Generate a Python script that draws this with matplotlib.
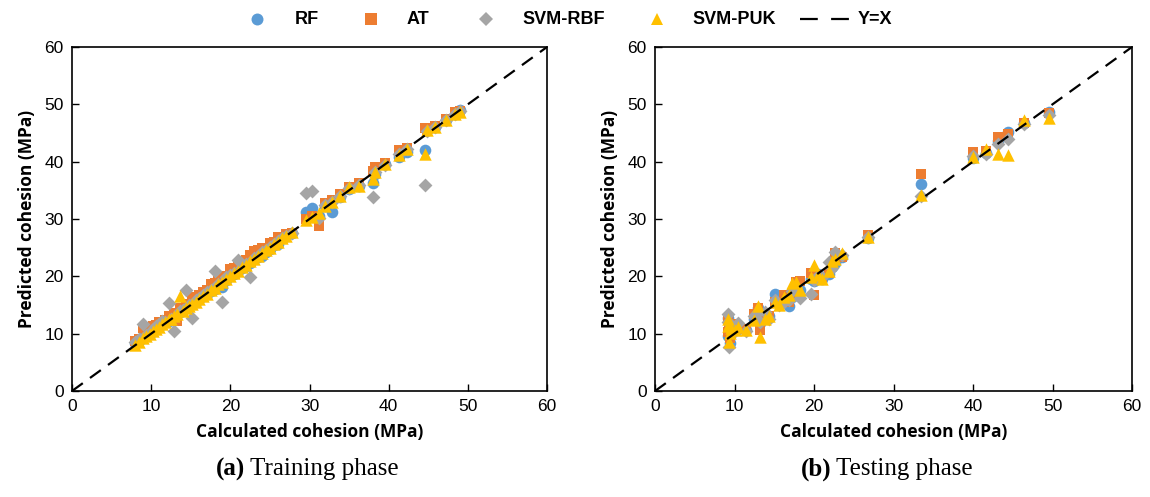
import matplotlib
matplotlib.use("Agg")
import matplotlib.pyplot as plt
from matplotlib.lines import Line2D

# ---------------- data ----------------
train_calc = [8.0, 8.5, 9.0, 9.4, 9.8, 10.2, 10.6, 11.0, 11.4, 11.8, 12.2, 12.5, 12.9, 13.3, 13.6,
              14.0, 14.4, 14.8, 15.2, 15.6, 16.0, 16.5, 17.0, 17.5, 18.0, 18.5, 19.0, 19.5, 20.0,
              20.5, 21.0, 21.5, 22.0, 22.5, 23.0, 23.5, 24.0, 24.5, 25.0, 25.5, 26.0, 26.5, 27.0,
              27.8, 29.5, 30.3, 31.2, 32.0, 32.8, 33.8, 35.0, 36.3, 38.0, 38.3, 39.5, 41.3, 42.3,
              44.6, 44.8, 45.9, 47.2, 48.4, 49.0]
train_rf = [8.4, 8.8, 9.4, 9.8, 10.0, 10.6, 10.8, 11.2, 11.6, 12.0, 12.2, 12.8, 13.0, 13.4, 13.8,
            14.2, 14.4, 14.8, 15.4, 15.6, 16.0, 16.6, 17.0, 17.4, 17.8, 18.4, 18.2, 19.4, 20.0,
            20.4, 21.0, 21.4, 21.8, 22.4, 23.0, 23.4, 23.6, 24.2, 24.8, 25.4, 25.6, 26.6, 27.0,
            27.6, 31.2, 31.9, 30.6, 32.2, 31.2, 33.8, 35.2, 35.8, 36.2, 37.8, 39.6, 40.8, 41.6,
            42.1, 45.6, 46.0, 47.2, 48.4, 49.0]
train_at = [8.8, 9.0, 11.0, 10.2, 11.2, 11.4, 11.5, 12.0, 11.6, 12.4, 13.0, 13.0, 13.6, 12.2, 14.4,
            14.2, 15.2, 15.0, 16.4, 16.0, 16.8, 17.2, 17.6, 18.6, 18.8, 19.6, 19.8, 20.0, 21.2,
            21.4, 22.2, 22.0, 22.8, 23.8, 24.4, 24.6, 25.0, 24.8, 25.8, 26.0, 26.8, 26.6, 27.4,
            27.6, 30.0, 30.6, 28.8, 32.8, 33.4, 34.4, 35.6, 36.2, 38.4, 39.0, 39.8, 42.0, 42.4,
            45.8, 45.4, 46.2, 47.4, 48.6, 48.8]
train_rbf = [8.6, 9.0, 11.6, 9.8, 10.2, 10.8, 11.4, 11.6, 12.2, 12.0, 15.4, 12.6, 10.4, 13.2, 14.0,
             14.2, 17.6, 15.0, 12.8, 15.8, 16.2, 16.8, 17.2, 17.6, 21.0, 18.6, 15.6, 19.8, 20.2,
             20.6, 22.9, 21.6, 22.2, 19.8, 23.2, 23.6, 24.2, 24.6, 25.2, 25.6, 26.2, 26.6, 27.0,
             27.6, 34.5, 34.8, 30.2, 32.4, 33.0, 34.0, 35.4, 36.0, 33.8, 38.2, 39.4, 41.4, 42.2,
             35.9, 45.4, 46.0, 47.2, 48.4, 48.8]
train_puk = [8.0, 8.6, 9.2, 9.6, 10.0, 10.4, 10.8, 11.2, 11.6, 12.0, 12.6, 12.6, 13.0, 13.4, 16.5,
             14.0, 14.4, 14.8, 15.2, 15.6, 16.0, 16.6, 17.0, 17.6, 18.0, 18.6, 19.0, 19.6, 20.0,
             20.6, 21.0, 21.6, 22.0, 22.6, 23.0, 23.6, 24.0, 24.6, 25.0, 25.6, 26.0, 26.6, 27.0,
             27.8, 29.8, 30.4, 31.0, 32.2, 33.0, 34.0, 35.6, 35.8, 37.0, 38.2, 39.6, 41.2, 42.2,
             41.4, 45.6, 46.0, 47.2, 48.4, 48.6]

test_calc = [9.2, 9.2, 9.3, 9.4, 9.6, 10.0, 10.4, 11.4, 12.4, 12.9, 13.2, 13.8, 14.4, 15.1, 15.6,
             16.2, 16.8, 17.2, 17.7, 18.2, 19.6, 20.0, 20.5, 21.0, 21.9, 22.3, 22.6, 23.5, 26.8,
             33.5, 40.0, 41.6, 43.1, 44.4, 46.4, 49.6]
test_rf = [9.6, 12.8, 10.6, 8.4, 11.2, 11.0, 10.8, 10.6, 12.6, 14.4, 11.8, 13.4, 13.0, 17.0, 15.2,
           16.0, 14.9, 16.4, 18.4, 17.7, 19.6, 19.2, 20.4, 19.6, 20.4, 21.6, 22.4, 23.4, 26.6,
           36.1, 40.6, 41.5, 43.6, 45.2, 46.8, 48.6]
test_at = [10.3, 12.6, 11.0, 9.2, 11.6, 11.4, 10.8, 10.8, 13.4, 14.4, 10.6, 13.2, 13.0, 15.6, 15.4,
           16.8, 15.6, 17.0, 19.0, 19.2, 20.5, 16.7, 20.2, 19.4, 20.5, 22.0, 24.0, 23.4, 27.2,
           37.8, 41.6, 41.8, 44.3, 44.9, 46.7, 48.5]
test_rbf = [13.5, 12.0, 7.6, 11.6, 10.8, 10.4, 11.8, 10.4, 13.0, 13.8, 12.0, 13.8, 12.6, 15.8, 15.0,
            15.6, 15.8, 17.4, 18.2, 16.3, 16.9, 19.4, 20.0, 19.8, 22.5, 21.4, 24.2, 23.8, 26.8,
            34.0, 41.0, 41.4, 43.0, 44.0, 46.5, 48.2]
test_puk = [12.6, 11.4, 8.6, 10.2, 11.0, 10.6, 11.2, 10.6, 12.4, 14.9, 9.5, 12.6, 13.0, 15.6, 15.0,
            16.4, 16.8, 18.8, 19.0, 17.6, 19.8, 21.9, 20.2, 19.6, 21.0, 22.6, 23.0, 24.0, 26.8,
            34.2, 40.8, 42.2, 41.3, 41.1, 47.3, 47.7]

ticks = [0, 10, 20, 30, 40, 50, 60]
series_names = ["RF", "AT", "SVM-RBF", "SVM-PUK"]
line_name = "Y=X"
xlabel = "Calculated cohesion (MPa)"
ylabel = "Predicted cohesion (MPa)"
captions = [("(a)", "Training phase"), ("(b)", "Testing phase")]

# ---------------- style ----------------
colors = ["#5B9BD5", "#ED7D31", "#A5A5A5", "#FFC000"]
markers = ["o", "s", "D", "^"]
sizes = [70, 60, 50, 80]
tick_font = ["Liberation Sans Narrow", "Liberation Sans", "DejaVu Sans"]
lab_font = ["Open Sans", "DejaVu Sans"]
serif = ["Liberation Serif", "DejaVu Serif"]
dash = (0, (6, 4))

fig = plt.figure(figsize=(11.5, 4.97), dpi=100)
W, H = 1150, 497
axes_px = [(72, 547), (655, 1132)]
y_top, y_bot = 47, 391
axs = []
for (l, r) in axes_px:
    ax = fig.add_axes([l / W, 1 - y_bot / H, (r - l) / W, (y_bot - y_top) / H])
    axs.append(ax)

datasets = [
    (train_calc, [train_rf, train_at, train_rbf, train_puk]),
    (test_calc, [test_rf, test_at, test_rbf, test_puk]),
]

for ax, (xc, ys) in zip(axs, datasets):
    for yv, c, m, s in zip(ys, colors, markers, sizes):
        ax.scatter(xc, yv, c=c, marker=m, s=s, linewidths=0, zorder=3)
    ax.plot([0, 60], [0, 60], color="black", lw=1.6, ls=dash, zorder=4)
    ax.set_xlim(0, 60)
    ax.set_ylim(0, 60)
    ax.set_xticks(ticks)
    ax.set_yticks(ticks)
    ax.tick_params(direction="in", length=5, width=1, pad=6)
    for lbl in ax.get_xticklabels() + ax.get_yticklabels():
        lbl.set_fontfamily(tick_font)
        lbl.set_fontsize(12.5)
    for sp in ax.spines.values():
        sp.set_linewidth(1.2)
        sp.set_color("black")
    ax.set_xlabel(xlabel, fontsize=12.5, fontweight="bold", family=lab_font, labelpad=6)
    ax.set_ylabel(ylabel, fontsize=12.5, fontweight="bold", family=lab_font, labelpad=6)

# captions
cap_pos = [(245, 250), (832, 836)]
for (a, b), (xa, xb) in zip(captions, cap_pos):
    fig.text(xa / W, 1 - 469 / H, a, ha="right", va="center", fontsize=18, fontweight="bold", family=serif)
    fig.text(xb / W, 1 - 469 / H, b, ha="left", va="center", fontsize=18, family=serif)

# legend (placed item by item)
leg_y = 1 - 19 / H
mark_x = [257, 371, 486, 657]
text_x = [295, 407, 522, 692]
leg_ms = [8.6, 9.0, 6.8, 8.6]
for name, c, m, ms, mx, tx in zip(series_names, colors, markers, leg_ms, mark_x, text_x):
    fig.add_artist(Line2D([mx / W], [leg_y], ls="none", marker=m, color=c, markersize=ms,
                          markeredgewidth=0, transform=fig.transFigure))
    fig.text(tx / W, leg_y, name, ha="left", va="center", fontsize=13, fontweight="bold",
             family=tick_font)
fig.add_artist(Line2D([800 / W, 853 / W], [leg_y, leg_y], color="black", lw=1.6,
                      ls=(0, (8, 6)), transform=fig.transFigure))
fig.text(858 / W, leg_y, line_name, ha="left", va="center", fontsize=13, fontweight="bold",
         family=tick_font)

fig.savefig("out.png", dpi=100)
